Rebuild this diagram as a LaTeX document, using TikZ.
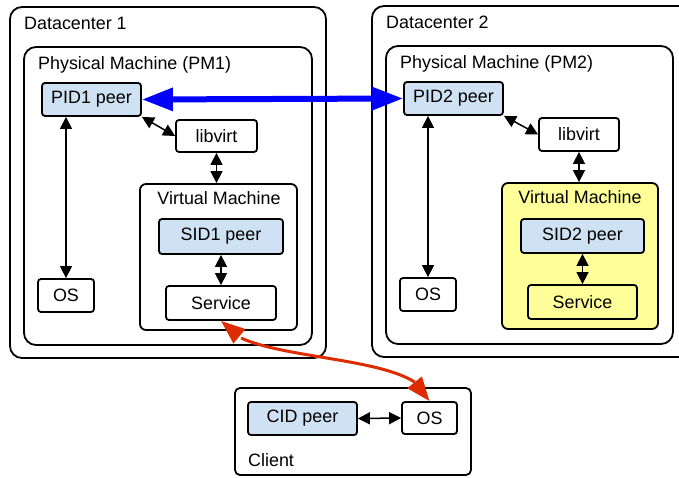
\documentclass[tikz,border=0pt]{standalone}
\usepackage{fontspec}
\setmainfont{Liberation Sans}
\usetikzlibrary{arrows.meta,bending}
\definecolor{peerblue}{RGB}{207,226,243}
\definecolor{vmyellow}{RGB}{255,255,153}
\definecolor{linkred}{RGB}{221,44,0}
\definecolor{linkblue}{RGB}{0,0,255}
\begin{document}
\begin{tikzpicture}[x=1pt,y=-1pt, font=\fontsize{17.9}{20}\selectfont,
 container/.style={draw, line width=1.8pt, rounded corners=12pt, inner sep=0pt},
 box/.style={draw, line width=1.8pt, rounded corners=3pt, inner sep=0pt},
 peer/.style={box, fill=peerblue},
 lbl/.style={anchor=base west, inner sep=0pt},
 clbl/.style={anchor=base, inner sep=0pt},
 link/.style={line width=1.5pt, {Triangle[length=12pt,width=12pt]}-{Triangle[length=12pt,width=12pt]}},
 bluelink/.style={draw=linkblue, line width=6pt, {Triangle[length=31pt,width=22pt]}-{Triangle[length=31pt,width=22pt]}},
 redlink/.style={draw=linkred, line width=3pt, {Triangle[length=24pt,width=18pt]}-{Triangle[length=24pt,width=18pt]}},
]
\useasboundingbox (0,0) rectangle (679,478);

% Datacenter 1
\node[container, minimum width=316pt, minimum height=351pt] (dc1) at (168,182.5) {};
\node[lbl] (dc1l) at (24,30) {Datacenter 1};
\node[container, minimum width=288pt, minimum height=298pt] (pm1) at (168,196) {};
\node[lbl] (pm1l) at (38,69.5) {Physical Machine (PM1)};
\node[peer, minimum width=99pt, minimum height=33pt] (pid1) at (91.5,99.5) {PID1 peer};
\node[box, minimum width=81pt, minimum height=32pt] (lib1) at (216.5,136) {libvirt};
\node[container, rounded corners=6pt, minimum width=157pt, minimum height=146pt] (vm1) at (218.5,257) {};
\node[clbl] (vm1l) at (219,205) {Virtual Machine};
\node[peer, minimum width=124pt, minimum height=35pt] (sid1) at (221,236.5) {SID1 peer};
\node[box, minimum width=110pt, minimum height=34pt] (svc1) at (221,303) {Service};
\node[box, minimum width=56pt, minimum height=33pt] (os1) at (66,295.5) {OS};

% Datacenter 2
\node[container, minimum width=320pt, minimum height=351pt] (dc2) at (532,181.5) {};
\node[lbl] (dc2l) at (386,28.5) {Datacenter 2};
\node[container, minimum width=287pt, minimum height=298pt] (pm2) at (529.5,195) {};
\node[lbl] (pm2l) at (400,68.5) {Physical Machine (PM2)};
\node[peer, minimum width=99pt, minimum height=33pt] (pid2) at (453.5,98.5) {PID2 peer};
\node[box, minimum width=80pt, minimum height=33pt] (lib2) at (579,134.5) {libvirt};
\node[container, rounded corners=6pt, fill=vmyellow, minimum width=156pt, minimum height=146pt] (vm2) at (580,256) {};
\node[clbl] (vm2l) at (580,204) {Virtual Machine};
\node[peer, minimum width=123pt, minimum height=34pt] (sid2) at (582.5,236) {SID2 peer};
\node[box, fill=vmyellow, minimum width=109pt, minimum height=34pt] (svc2) at (582.5,302) {Service};
\node[box, minimum width=56pt, minimum height=33pt] (os2) at (428,294.5) {OS};

% Client
\node[container, rounded corners=5pt, minimum width=236pt, minimum height=87pt] (client) at (353,431.5) {};
\node[lbl] (clientl) at (248,466.5) {Client};
\node[peer, minimum width=109pt, minimum height=33pt] (cid) at (302.5,418.5) {CID peer};
\node[box, minimum width=55pt, minimum height=32pt] (os3) at (429.5,418) {OS};

% connectors DC1
\draw[link] (pid1.south east) -- (lib1.west);
\draw[link] (lib1.south) -- (lib1.south |- vm1.north);
\draw[link] (os1.north |- pid1.south) -- (os1.north);
\draw[link] (sid1.south) -- (svc1.north);
% connectors DC2
\draw[link] (pid2.south east) -- (lib2.west);
\draw[link] (lib2.south) -- (lib2.south |- vm2.north);
\draw[link] (os2.north |- pid2.south) -- (os2.north);
\draw[link] (sid2.south) -- (svc2.north);
% client
\draw[link] (cid.east) -- (os3.west);

% inter-site links
\draw[bluelink] (pid1.east) -- (pid2.west);
\draw[redlink] (svc1.south) .. controls (240,365) and (420,350) .. (os3.north);
\end{tikzpicture}
\end{document}
